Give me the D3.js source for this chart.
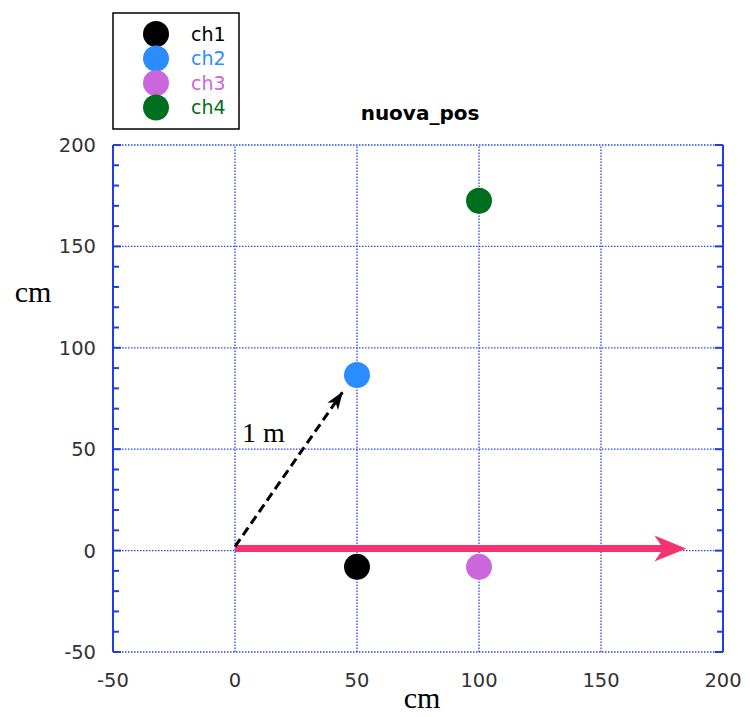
<!DOCTYPE html>
<html><head><meta charset="utf-8">
<script src="https://cdn.jsdelivr.net/npm/d3@7"></script>
<style>body{margin:0;background:#fff}</style>
</head><body>
<svg id="c" width="750" height="717"></svg>
<script>
const channels = ["ch1","ch2","ch3","ch4"];
const xs = [50, 50, 100, 100];
const ys = [-8, 86.6, -8, 172.5];
const colors = ["#000000","#2a8cff","#cc66dd","#006e20"];
const tickVals = [-50, 0, 50, 100, 150, 200];
const dashArrow = [[0, 2], [44, 78]];
const pinkArrow = [[0, 1], [185, 1]];

const svg = d3.select("#c");
const x = d3.scaleLinear().domain([-50, 200]).range([113, 723]);
const y = d3.scaleLinear().domain([-50, 200]).range([652, 145]);
const axisCol = "#1f3de6";

// grid (dotted)
const grid = svg.append("g").attr("stroke", "#2a46f0").attr("stroke-width", 1.3).attr("stroke-dasharray", "1.5,1.5");
tickVals.filter(v => v > -50 && v < 200).forEach(v => {
  grid.append("line").attr("x1", x(v)).attr("x2", x(v)).attr("y1", y(-50)).attr("y2", y(200));
});
tickVals.forEach(v => {
  grid.append("line").attr("x1", x(-50)).attr("x2", x(200)).attr("y1", y(v)).attr("y2", y(v));
});

// left and right solid axes with inward ticks
const minor = d3.range(-50, 201, 10);
[[-50, 1], [200, -1]].forEach(([xv, dir]) => {
  const g = svg.append("g").attr("stroke", axisCol).attr("stroke-width", 2);
  g.append("line").attr("x1", x(xv)).attr("x2", x(xv)).attr("y1", y(-50)).attr("y2", y(200));
  minor.forEach(v => {
    const len = v % 50 === 0 ? 8 : 6;
    g.append("line").attr("x1", x(xv)).attr("x2", x(xv) + dir * len).attr("y1", y(v)).attr("y2", y(v));
  });
});

// tick labels
const lab = svg.append("g").attr("font-family", "DejaVu Sans").attr("font-size", 19.5).attr("fill", "#333");
tickVals.forEach(v => {
  lab.append("text").attr("x", 96).attr("y", y(v)).attr("dy", "0.36em").attr("text-anchor", "end").text(v);
  lab.append("text").attr("x", x(v)).attr("y", 687).attr("text-anchor", "middle").text(v);
});

// axis titles
svg.append("text").attr("x", 422).attr("y", 708).attr("text-anchor", "middle")
  .attr("font-family", "Liberation Serif").attr("font-size", 30).text("cm");
svg.append("text").attr("x", 33).attr("y", 302).attr("text-anchor", "middle")
  .attr("font-family", "Liberation Serif").attr("font-size", 30).text("cm");

// title
svg.append("text").attr("x", 420).attr("y", 120).attr("text-anchor", "middle")
  .attr("font-family", "DejaVu Sans").attr("font-weight", "bold").attr("font-size", 20).text("nuova_pos");

// pink arrow
const defs = svg.append("defs");
defs.append("marker").attr("id", "pinkhead").attr("markerUnits", "userSpaceOnUse")
  .attr("viewBox", "0 -14 32 28").attr("refX", 12).attr("refY", 0)
  .attr("markerWidth", 32).attr("markerHeight", 28).attr("orient", "auto")
  .append("path").attr("d", "M0,-13 L32,0 L0,13 L9,0 Z").attr("fill", "#f53370");
svg.append("line")
  .attr("x1", x(pinkArrow[0][0])).attr("y1", y(pinkArrow[0][1]))
  .attr("x2", x(pinkArrow[1][0]) - 20).attr("y2", y(pinkArrow[1][1]))
  .attr("stroke", "#f53370").attr("stroke-width", 7).attr("marker-end", "url(#pinkhead)");

// dashed black arrow
defs.append("marker").attr("id", "blackhead").attr("markerUnits", "userSpaceOnUse")
  .attr("viewBox", "0 -7 18 14").attr("refX", 17).attr("refY", 0)
  .attr("markerWidth", 18).attr("markerHeight", 14).attr("orient", "auto")
  .append("path").attr("d", "M0,-6.5 L18,0 L0,6.5 L5,0 Z").attr("fill", "#000");
svg.append("line")
  .attr("x1", x(dashArrow[0][0])).attr("y1", y(dashArrow[0][1]))
  .attr("x2", x(dashArrow[1][0])).attr("y2", y(dashArrow[1][1]))
  .attr("stroke", "#000").attr("stroke-width", 3).attr("stroke-dasharray", "9,5")
  .attr("marker-end", "url(#blackhead)");
svg.append("text").attr("x", 242).attr("y", 442)
  .attr("font-family", "Liberation Serif").attr("font-size", 28).text("1 m");

// points
svg.append("g").selectAll("circle").data(channels).join("circle")
  .attr("cx", (d, i) => x(xs[i])).attr("cy", (d, i) => y(ys[i])).attr("r", 13)
  .attr("fill", (d, i) => colors[i]);

// legend
const lg = svg.append("g");
lg.append("rect").attr("x", 113).attr("y", 13).attr("width", 126).attr("height", 116)
  .attr("fill", "#fff").attr("stroke", "#000").attr("stroke-width", 1.5);
channels.forEach((c, i) => {
  const cy = 34 + i * 24.5;
  lg.append("circle").attr("cx", 156).attr("cy", cy).attr("r", 13).attr("fill", colors[i]);
  lg.append("text").attr("x", 191).attr("y", cy).attr("dy", "0.36em")
    .attr("font-family", "DejaVu Sans").attr("font-size", 19).attr("fill", colors[i]).text(c);
});
</script>
</body></html>
